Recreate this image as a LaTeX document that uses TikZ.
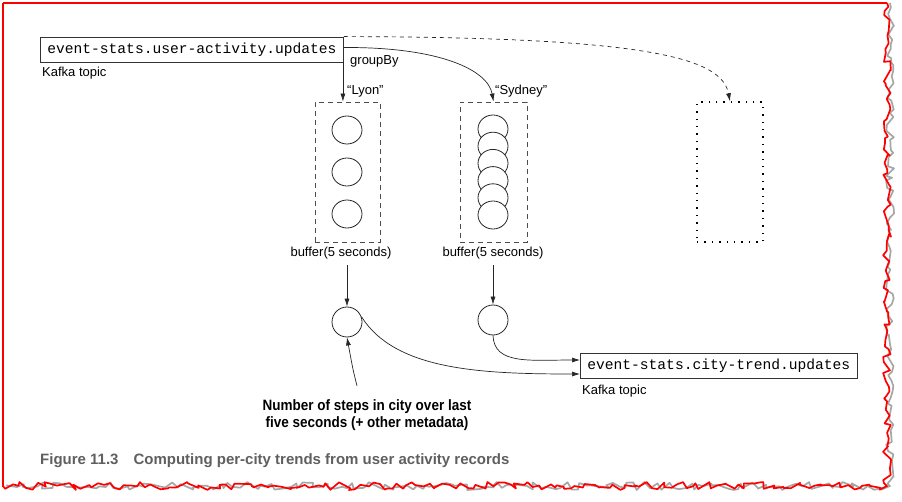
\documentclass[tikz,border=0pt]{standalone}
\usepackage{fontspec}
\setmainfont{Liberation Sans}
\newfontfamily\monof{Liberation Mono}
\newfontfamily\narrowbold[FakeStretch=0.9]{Liberation Sans Bold}
\newfontfamily\capfont{Liberation Sans Bold}
\usetikzlibrary{arrows.meta,decorations.pathmorphing,calc,shapes.geometric}
\definecolor{capgray}{RGB}{95,95,95}
\tikzset{
  topic/.style={draw=black!80, line width=0.8pt, fill=white, font=\monof\fontsize{14.6}{16}\selectfont, inner xsep=7pt, minimum height=25pt, anchor=west},
  lbl/.style={font=\fontsize{13}{15}\selectfont, inner sep=0pt},
  bufbox/.style={draw=black!70, dash pattern=on 5pt off 4pt, line width=0.8pt, minimum width=65pt, minimum height=140pt, inner sep=0pt},
  dotbox/.style={draw=black, dash pattern=on 1.4pt off 6pt, line width=1.4pt, minimum width=66pt, minimum height=140pt, inner sep=0pt},
  rec/.style={draw=black!85, line width=0.8pt, fill=white, ellipse, minimum width=30pt, minimum height=28pt, inner sep=0pt},
  res/.style={draw=black!85, line width=0.8pt, circle, minimum size=30pt, inner sep=0pt},
  arr/.style={-{Latex[length=8pt,width=5pt]}, line width=0.7pt, black!85},
}
\begin{document}
\begin{tikzpicture}[x=1pt,y=-1pt]
\useasboundingbox (0,0) rectangle (902,502);
% torn border
\pgfmathsetseed{7}
\begin{scope}[line width=1.7pt, line join=round]
\draw[black!35, shift={(2,-2)}, decorate, decoration={random steps, segment length=5pt, amplitude=4pt}]
  (888,5) -- (888,488) -- (5,488);
\draw[red] (3,3) -- (887,3);
\draw[red] (3,3) -- (3,487);
\draw[red, decorate, decoration={random steps, segment length=5pt, amplitude=4pt}]
  (887,3) -- (887,486) -- (3,486);
\end{scope}

% nodes
\node[topic] (src) at (40,49.5) {event-stats.user-activity.updates};
\node[lbl, anchor=west] (srck) at (42,73) {Kafka topic};
\node[lbl, anchor=west] (gb) at (350,61) {groupBy};

\node[bufbox] (lyon) at (347.5,172) {};
\node[bufbox, minimum width=67pt] (syd) at (493.5,172) {};
\node[dotbox] (other) at (730,172) {};

\node[lbl, anchor=west] (lyonl) at (347,91) {“Lyon”};
\node[lbl, anchor=west] (sydl) at (495,91) {“Sydney”};

\node[rec] (l1) at (347,130) {};
\node[rec] (l2) at (347,172) {};
\node[rec] (l3) at (347,214) {};

\foreach \i/\y in {1/129,2/146.2,3/163.4,4/180.6,5/197.8,6/215}
  \node[rec] (s\i) at (493,\y) {};

\node[lbl] (lb) at (341,253) {buffer(5 seconds)};
\node[lbl] (sb) at (493,253) {buffer(5 seconds)};

\node[res] (r1) at (347,322) {};
\node[res] (r2) at (493,320) {};

\node[topic] (dst) at (580,366) {event-stats.city-trend.updates};
\node[lbl, anchor=west] (dstk) at (582,391) {Kafka topic};

\node[font=\narrowbold\fontsize{15}{17}\selectfont, align=center, inner sep=0pt] (note) at (367,415.5)
  {Number of steps in city over last\\five seconds (+ other metadata)};

\node[font=\capfont\fontsize{15}{17}\selectfont, text=capgray, anchor=west, inner sep=0pt] (cap) at (40,461)
  {Figure 11.3\hspace{15pt}Computing per-city trends from user activity records};

% connectors
\draw[arr] (src.south east) ++(-1,0) coordinate (a0) -- (a0 |- lyon.north);
\draw[arr] (src.east) ++(0,-2) coordinate (b0) .. controls (440,47) and (488,70) .. (syd.north);
\draw[arr, dash pattern=on 4pt off 4pt] (src.north east) .. controls (660,37) and (722,60) .. (other.north);
\draw[arr] (lb.south -| r1) ++(0,6) coordinate (c0) -- (r1.north);
\draw[arr] (sb.south -| r2) ++(0,6) coordinate (d0) -- (r2.north);
\draw[arr] (r1.20) .. controls (395,370) and (480,374) .. (dst.west |- 0,374);
\draw[arr] (r2.south) .. controls (494,365) and (530,360) .. (dst.west |- 0,360);
\draw[arr] (note.north) ++(-10,-14) coordinate (e0) .. controls (353,370) .. (r1.south);
\end{tikzpicture}
\end{document}
